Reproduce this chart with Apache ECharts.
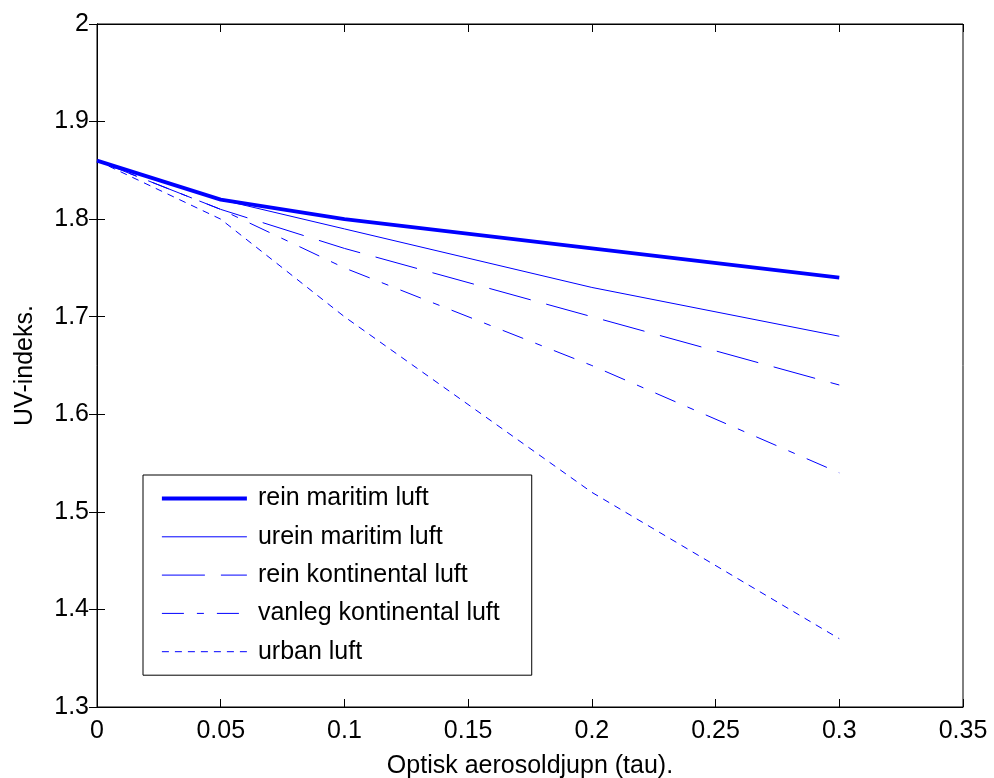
<!DOCTYPE html>
<html>
<head>
<meta charset="utf-8">
<script src="https://cdn.jsdelivr.net/npm/echarts@6/dist/echarts.min.js"></script>
<style>
html,body{margin:0;padding:0;background:#fff;}
#chart{width:994px;height:778px;}
</style>
</head>
<body>
<div id="chart"></div>
<script>
const tau = [0, 0.05, 0.1, 0.2, 0.3];
const reinMaritim = [1.86, 1.82, 1.80, 1.77, 1.74];
const ureinMaritim = [1.86, 1.82, 1.79, 1.73, 1.68];
const reinKontinental = [1.86, 1.81, 1.77, 1.70, 1.63];
const vanlegKontinental = [1.86, 1.81, 1.75, 1.65, 1.54];
const urbanLuft = [1.86, 1.80, 1.70, 1.52, 1.37];
const seriesNames = ['rein maritim luft', 'urein maritim luft', 'rein kontinental luft', 'vanleg kontinental luft', 'urban luft'];
const xTitle = 'Optisk aerosoldjupn (tau).';
const yTitle = 'UV-indeks.';

const FONT = 'Liberation Sans, Arial, sans-serif';
const FS = 25;
const blue = '#0000ff';

function pairs(ys){ return tau.map((x,i)=>[x, ys[i]]); }

const styles = [
  {width: 3.8, type: 'solid'},
  {width: 1, type: 'solid'},
  {width: 1, type: [43, 16]},
  {width: 1, type: [22, 13, 7, 13]},
  {width: 1, type: [7, 6]}
];
const allData = [reinMaritim, ureinMaritim, reinKontinental, vanlegKontinental, urbanLuft];

const chart = echarts.init(document.getElementById('chart'));
const fmtX = v => String(+(+v).toFixed(2));
const fmtY = v => String(+(+v).toFixed(1));

const baseAxisLine = {show: true, lineStyle: {color: '#000', width: 1}};
const tickStyle = {show: true, inside: true, length: 8, lineStyle: {color: '#000', width: 1}};

chart.setOption({
  backgroundColor: '#fff',
  animation: false,
  textStyle: {fontFamily: FONT},
  grid: {left: 97, right: 31, top: 24, bottom: 71, containLabel: false, outerBoundsMode: 'none',
         show: true, borderColor: '#000', borderWidth: 1, backgroundColor: '#fff'},
  xAxis: [{
    type: 'value', min: 0, max: 0.35, interval: 0.05, position: 'bottom',
    name: xTitle, nameLocation: 'middle', nameGap: 47, nameMoveOverlap: false,
    nameTextStyle: {color: '#000', fontSize: FS, fontFamily: FONT},
    axisLine: baseAxisLine, axisTick: tickStyle,
    axisLabel: {color: '#000', fontSize: FS, fontFamily: FONT, margin: 12, formatter: fmtX},
    splitLine: {show: false}
  }, {
    type: 'value', min: 0, max: 0.35, interval: 0.05, position: 'top',
    axisLine: baseAxisLine, axisTick: tickStyle, axisLabel: {show: false}, splitLine: {show: false}
  }],
  yAxis: [{
    type: 'value', min: 1.3, max: 2, interval: 0.1, position: 'left',
    name: yTitle, nameLocation: 'middle', nameGap: 59, nameMoveOverlap: false,
    nameTextStyle: {color: '#000', fontSize: FS, fontFamily: FONT},
    axisLine: baseAxisLine, axisTick: tickStyle,
    axisLabel: {color: '#000', fontSize: FS, fontFamily: FONT, margin: 8, formatter: fmtY},
    splitLine: {show: false}
  }, {
    type: 'value', min: 1.3, max: 2, interval: 0.1, position: 'right',
    axisLine: baseAxisLine, axisTick: tickStyle, axisLabel: {show: false}, splitLine: {show: false}
  }],
  legend: {
    orient: 'vertical', left: 143, top: 475,
    backgroundColor: '#fff', borderColor: '#000', borderWidth: 1, borderRadius: 0,
    padding: [11, 32, 11, 17],
    itemWidth: 85, itemHeight: 24, itemGap: 13.3,
    itemStyle: {color: 'rgba(0,0,0,0)', borderColor: 'rgba(0,0,0,0)', borderWidth: 0, opacity: 0},
    textStyle: {color: '#000', fontSize: FS, fontFamily: FONT, lineHeight: 24, padding: [0, 0, 0, 6]},
    data: seriesNames.map((n, i) => ({name: n, lineStyle: {width: styles[i].width, type: styles[i].type, color: blue}}))
  },
  series: allData.map((d, i) => ({
    name: seriesNames[i], type: 'line', data: pairs(d),
    symbol: 'none', showSymbol: false, smooth: false,
    lineStyle: {color: blue, width: styles[i].width, type: styles[i].type},
    itemStyle: {color: blue},
    z: 10 - i
  }))
});
</script>
</body>
</html>
